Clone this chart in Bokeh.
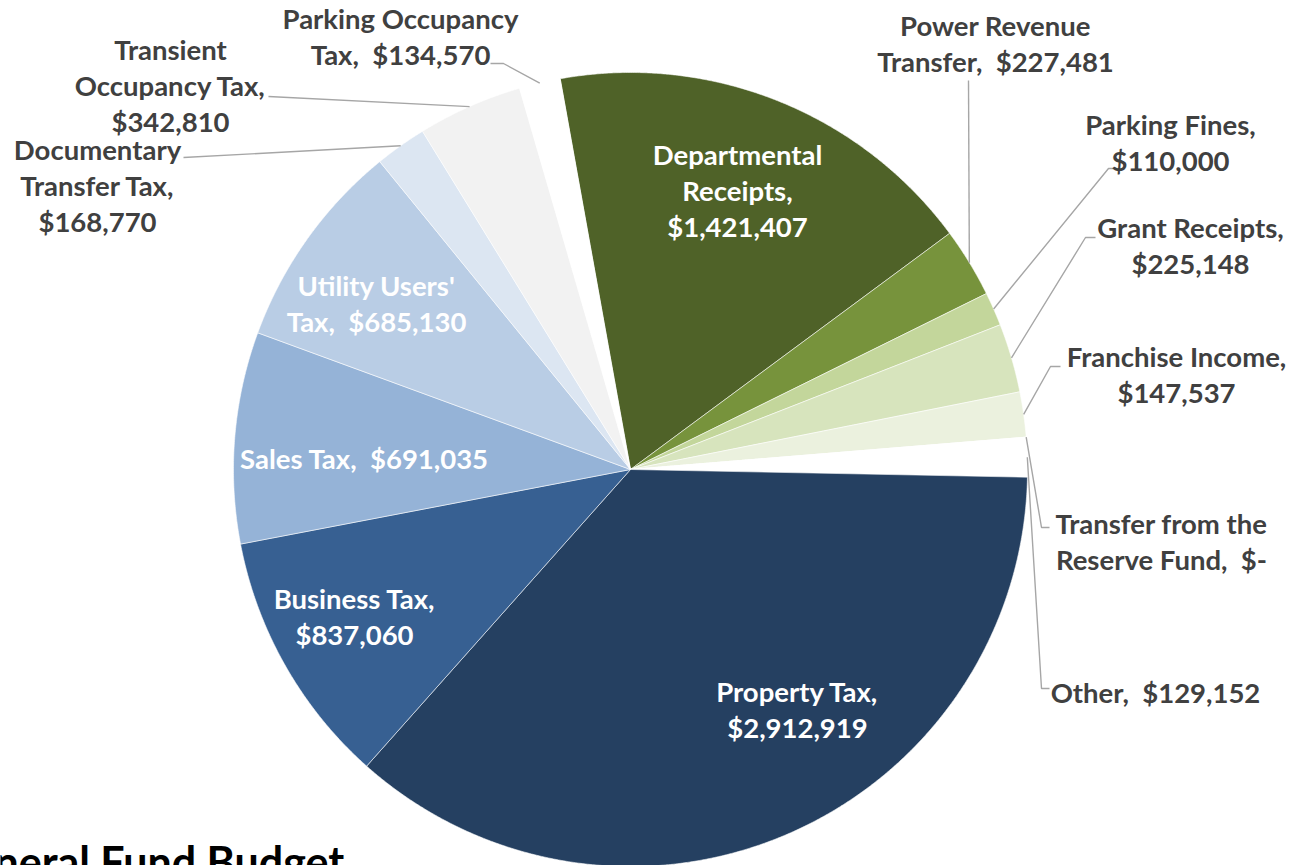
import math
from bokeh.plotting import figure
from bokeh.models import Range1d, ColumnDataSource
from bokeh.core.properties import value
from bokeh.embed import file_html
from bokeh.resources import INLINE

# ---------------- data ----------------
categories = [
    "Departmental Receipts", "Power Revenue Transfer", "Parking Fines",
    "Grant Receipts", "Franchise Income", "Transfer from the Reserve Fund",
    "Other", "Property Tax", "Business Tax", "Sales Tax",
    "Utility Users' Tax", "Documentary Transfer Tax",
    "Transient Occupancy Tax", "Parking Occupancy Tax",
]
amounts = [1421407, 227481, 110000, 225148, 147537, 0, 129152,
           2912919, 837060, 691035, 685130, 168770, 342810, 134570]
title_text = "General Fund Budget"

# ---------------- style / layout ----------------
colors = ["#4F6228", "#77933C", "#C3D69B", "#D7E4BD", "#EBF1DE", "#FFFFFF",
          "#FFFFFF", "#254061", "#376092", "#95B3D7", "#B9CDE5", "#DCE6F2",
          "#F2F2F2", "#FFFFFF"]
# where each label's category name is broken into lines (layout only)
name_lines = [
    ["Departmental", "Receipts,"], ["Power Revenue", "Transfer,"],
    ["Parking Fines,"], ["Grant Receipts,"], ["Franchise Income,"],
    ["Transfer from the", "Reserve Fund,"], ["Other,"], ["Property Tax,"],
    ["Business Tax,"], ["Sales Tax,"], ["Utility Users'", "Tax,"],
    ["Documentary", "Transfer Tax,"], ["Transient", "Occupancy Tax,"],
    ["Parking Occupancy", "Tax,"],
]
# join value to last name line (True) or put it on its own line (False)
value_inline = [False, True, False, False, False, True, True, False, False,
                True, True, False, False, True]
inside = [True, False, False, False, False, False, False, True, True, True,
          True, False, False, False]
# label block centres, in page pixels (x right, y down)
label_pos = [(737, 190), (995, 43), (1170, 142), (1190, 245), (1176, 374),
             (1161, 541), (1155, 692), (797, 709), (354, 616), (364, 458),
             (376, 303), (97, 185), (170, 85), (400, 36)]
# leader-line knees (page pixels) from label towards slice edge
leader_knees = [None, [(968, 80)], [(1116, 168), (1108, 168)],
                [(1095, 237), (1085, 237)], [(1060, 366), (1050, 366)],
                [(1049, 527), (1041, 527)], [(1049, 688), (1041, 688)],
                None, None, None, None, [(183, 157)], [(268, 96)],
                [(490, 63), (503, 63)]]

W_PX, H_PX = 1294, 865
CX, CY, R = 630, 469, 397          # pie centre / radius, page pixels
START = -10.2                       # first slice start, degrees clockwise from 12 o'clock
FONT = "Lato"
FS = "27.5px"
GAP = "\u00a0 "

def Y(py):
    return H_PX - py

def fmt(v):
    return "$-" if v == 0 else "${:,}".format(v)

total = float(sum(amounts))
starts, ends, mids = [], [], []
acc = START
for a in amounts:
    span = a / total * 360.0
    starts.append(acc)
    ends.append(acc + span)
    mids.append(acc + span / 2)
    acc += span

p = figure(width=W_PX, height=H_PX, output_backend="svg", toolbar_location=None,
           x_range=Range1d(0, W_PX), y_range=Range1d(0, H_PX),
           x_axis_type=None, y_axis_type=None, min_border=0,
           background_fill_color="white", border_fill_color="white")
p.grid.visible = False
p.outline_line_color = None

# slices as polygons built from the cumulative angles
def edge(deg):
    a = math.radians(deg)
    return CX + R * math.sin(a), CY - R * math.cos(a)

sx, sy = [], []
for s, e in zip(starts, ends):
    n = max(2, int((e - s) / 0.25) + 2)
    pts = [(CX, CY)] + [edge(s + (e - s) * k / (n - 1)) for k in range(n)]
    sx.append([q[0] for q in pts])
    sy.append([Y(q[1]) for q in pts])

wsrc = ColumnDataSource(dict(cat=categories, xs=sx, ys=sy, color=colors))
p.patches(xs="xs", ys="ys", fill_color="color", line_color="white",
          line_width=0.8, line_alpha=0.7, line_join="round", source=wsrc)

# leader lines
xs, ys = [], []
for i, knees in enumerate(leader_knees):
    if knees is None:
        continue
    ex, ey = edge(mids[i])
    pts = list(knees) + [(ex, ey)]
    xs.append([q[0] for q in pts])
    ys.append([Y(q[1]) for q in pts])
p.multi_line(xs=xs, ys=ys, line_color="#A6A6A6", line_width=1.4)

# labels
def build(i):
    lines = list(name_lines[i])
    if value_inline[i]:
        lines[-1] = lines[-1] + GAP + fmt(amounts[i])
    else:
        lines.append(fmt(amounts[i]))
    return "\n".join(lines)

for flag, col in ((True, "white"), (False, "#404040")):
    idx = [i for i in range(len(categories)) if inside[i] == flag]
    src = ColumnDataSource(dict(
        x=[label_pos[i][0] for i in idx],
        y=[Y(label_pos[i][1]) for i in idx],
        t=[build(i) for i in idx],
    ))
    p.text(x="x", y="y", text="t", source=src, text_align="center",
           text_baseline="middle", text_color=col, text_font=value(FONT),
           text_font_style="bold", text_font_size=FS, text_line_height=1.1)

p.text(x=[-60], y=[Y(861)], text=[title_text], text_align="left",
       text_baseline="alphabetic", text_color="black", text_font=value(FONT),
       text_font_style="bold", text_font_size="43px")

open("out.html", "w").write(file_html(p, INLINE))
